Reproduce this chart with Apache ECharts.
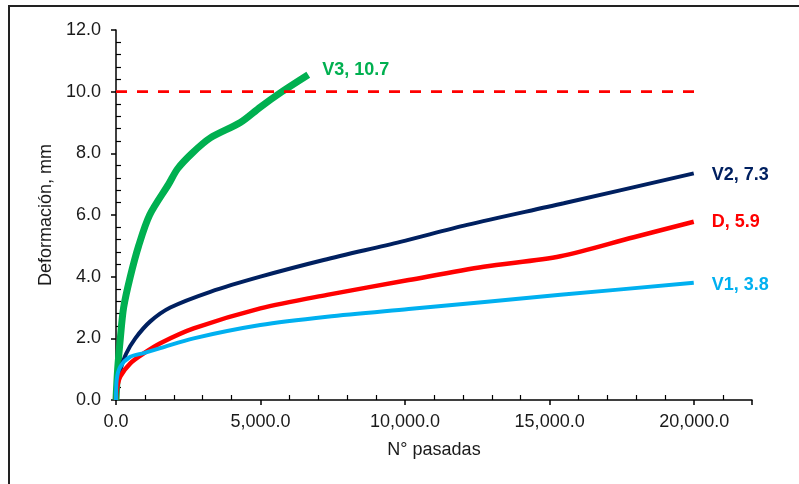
<!DOCTYPE html>
<html>
<head>
<meta charset="utf-8">
<script src="https://cdn.jsdelivr.net/npm/echarts@6/dist/echarts.min.js"></script>
<style>
  html, body { margin: 0; padding: 0; background: #fff; }
  #chart { width: 799px; height: 484px; }
</style>
</head>
<body>
<div id="chart"></div>
<script>
// [N° pasadas, deformación mm]
const v3 = [[0, 0], [57, 1.0], [150, 2.0], [264, 3.0], [495, 4.0], [783, 5.0], [1164, 6.0], [1821, 7.0],
  [2131, 7.5], [2628, 8.0], [3263, 8.5], [4300, 9.0], [4993, 9.5], [5743, 10.0], [6650, 10.55]]
const v2 = [[0, 0], [20, 0.4], [149, 0.97], [350, 1.5], [668, 2.0], [1187, 2.55], [1879, 3.0], [3263, 3.51],
  [4993, 4.0], [7183, 4.54], [9838, 5.13], [12145, 5.68], [15487, 6.38], [19985, 7.35]]
const dd = [[0, 0], [23, 0.32], [149, 0.76], [495, 1.19], [956, 1.51], [1533, 1.84], [2686, 2.32], [4993, 2.97],
  [7300, 3.41], [10124, 3.89], [12719, 4.32], [15373, 4.66], [17909, 5.28], [19985, 5.78]]
const v1 = [[0, 0], [23, 0.65], [149, 1.08], [495, 1.40], [956, 1.52], [1533, 1.68], [2686, 2.0], [4993, 2.43],
  [7300, 2.70], [10124, 2.95], [15373, 3.41], [19985, 3.80]]
const limite = [[0, 10], [20000, 10]]

const seriesNames = ['V3', 'V2', 'D', 'V1']
const endValues = ['10.7', '7.3', '5.9', '3.8']
const seriesColors = ['#00B050', '#002060', '#FF0000', '#00B0F0']
const seriesData = [v3, v2, dd, v1]
const lineWidths = [7, 4, 4.5, 4]
const labelShift = [[0, -5, 14], [0, 2, 18], [0, 0, 18], [0, 2, 18]] // dx, dy, distance

const fmtX = v => v.toLocaleString('en-US', {minimumFractionDigits: 1, maximumFractionDigits: 1})
const font = 'Liberation Sans, Arial, sans-serif'

var series = []
for (var i = 0; i < seriesNames.length; i++) {
  series.push({
    name: seriesNames[i],
    type: 'line',
    data: seriesData[i],
    showSymbol: false,
    smooth: 0.3,
    lineStyle: {color: seriesColors[i], width: lineWidths[i]},
    endLabel: {
      show: true,
      formatter: seriesNames[i] + ', ' + endValues[i],
      color: seriesColors[i],
      fontFamily: font,
      fontSize: 18,
      fontWeight: 'bold',
      distance: labelShift[i][2],
      offset: [labelShift[i][0], labelShift[i][1]]
    },
    silent: true,
    z: 2
  })
}
series.push({
  type: 'line',
  data: limite,
  showSymbol: false,
  lineStyle: {color: '#FF0000', width: 2.8, type: [11, 10]},
  silent: true,
  z: 3
})

const chart = echarts.init(document.getElementById('chart'))
chart.setOption({
  animation: false,
  backgroundColor: '#fff',
  grid: {left: 116, top: 30, right: 47, bottom: 84},
  xAxis: {
    type: 'value',
    min: 0,
    max: 22000,
    interval: 5000,
    name: 'N° pasadas',
    nameLocation: 'middle',
    nameGap: 41,
    nameTextStyle: {color: '#1a1a1a', fontSize: 18, fontFamily: font},
    axisLine: {lineStyle: {color: '#000', width: 1.5}},
    axisTick: {length: 5, lineStyle: {color: '#000', width: 1.5}},
    minorTick: {show: true, splitNumber: 5, length: -5, lineStyle: {color: '#000', width: 1.2}},
    axisLabel: {
      color: '#1a1a1a', fontSize: 18, fontFamily: font, margin: 13,
      formatter: v => (v > 20000 ? '' : fmtX(v))
    },
    splitLine: {show: false}
  },
  yAxis: {
    type: 'value',
    min: 0,
    max: 12,
    interval: 2,
    name: 'Deformación, mm',
    nameLocation: 'middle',
    nameGap: 52,
    nameTextStyle: {color: '#1a1a1a', fontSize: 18, fontFamily: font},
    axisLine: {show: true, lineStyle: {color: '#000', width: 1.5}},
    axisTick: {show: true, length: 5, lineStyle: {color: '#000', width: 1.5}},
    minorTick: {show: true, splitNumber: 5, length: -5, lineStyle: {color: '#000', width: 1.2}},
    axisLabel: {
      color: '#1a1a1a', fontSize: 18, fontFamily: font, margin: 15,
      formatter: v => v.toFixed(1)
    },
    splitLine: {show: false}
  },
  graphic: [
    {type: 'line', shape: {x1: 8, y1: 6, x2: 799, y2: 6}, style: {stroke: '#222', lineWidth: 2}},
    {type: 'line', shape: {x1: 9, y1: 6, x2: 9, y2: 484}, style: {stroke: '#222', lineWidth: 2}}
  ],
  series: series
})
</script>
</body>
</html>
